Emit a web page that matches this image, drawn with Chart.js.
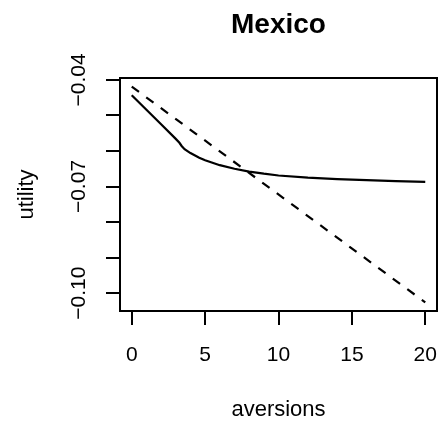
<!DOCTYPE html>
<html>
<head>
<meta charset="utf-8">
<script src="https://cdn.jsdelivr.net/npm/chart.js@4/dist/chart.umd.min.js"></script>
<style>
  html, body { margin: 0; padding: 0; background: #fff; }
  #wrap { width: 438px; height: 423px; }
</style>
</head>
<body>
<div id="wrap"><canvas id="chart" width="438" height="423"></canvas></div>
<script>
/* Utility vs. aversions for Mexico, base-R style plot */

const TITLE = 'Mexico';
const X_TITLE = 'aversions';
const Y_TITLE = 'utility';

// solid curve
const aversions = [0, 1, 2, 3, 3.25, 3.4, 3.6, 4, 4.6, 5, 6, 7, 8, 9, 10, 12, 14, 16, 18, 20];
const utility = [-0.0443, -0.0484, -0.0525, -0.0566, -0.0577, -0.0586, -0.0595, -0.0606, -0.0619, -0.0626,
    -0.0640, -0.0650, -0.0658, -0.0664, -0.0669, -0.0675, -0.0679, -0.0682, -0.0685, -0.0687];

// dashed reference line
const refAversions = [0, 20];
const refUtility = [-0.0419, -0.1026];

const xTicks = [0, 5, 10, 15, 20];
const xTickLabels = ['0', '5', '10', '15', '20'];
const yTicks = [-0.04, -0.05, -0.06, -0.07, -0.08, -0.09, -0.10];
const yTickLabels = ['\u22120.04', '', '', '\u22120.07', '', '', '\u22120.10'];

const FONT = "'Liberation Sans', Arial, Helvetica, sans-serif";
const INK = '#000';

// R-style 4% padding around the data range
function padRange(lo, hi) {
    const d = (hi - lo) * 0.04;
    return [lo - d, hi + d];
}
const [xMin, xMax] = padRange(0, 20);
const allY = utility.concat(refUtility);
const [yMin, yMax] = padRange(Math.min(...allY), Math.max(...allY));

const toPoints = (xs, ys) => xs.map((x, i) => ({ x, y: ys[i] }));

const baseAxes = {
    id: 'baseAxes',
    afterDraw(c) {
        const { ctx, chartArea: a } = c;
        const sx = c.scales.x;
        const sy = c.scales.y;
        const tick = 14;
        ctx.save();
        ctx.strokeStyle = INK;
        ctx.fillStyle = INK;
        ctx.lineWidth = 2;
        ctx.lineCap = 'butt';

        // box
        ctx.strokeRect(a.left, a.top, a.right - a.left, a.bottom - a.top);

        // x axis
        ctx.beginPath();
        ctx.moveTo(sx.getPixelForValue(xTicks[0]), a.bottom);
        ctx.lineTo(sx.getPixelForValue(xTicks[xTicks.length - 1]), a.bottom);
        xTicks.forEach((v) => {
            const px = Math.round(sx.getPixelForValue(v));
            ctx.moveTo(px, a.bottom);
            ctx.lineTo(px, a.bottom + tick);
        });
        ctx.stroke();
        ctx.font = `21px ${FONT}`;
        ctx.textAlign = 'center';
        ctx.textBaseline = 'middle';
        xTicks.forEach((v, i) => {
            ctx.fillText(xTickLabels[i], sx.getPixelForValue(v), 355);
        });

        // y axis
        ctx.beginPath();
        ctx.moveTo(a.left, sy.getPixelForValue(yTicks[0]));
        ctx.lineTo(a.left, sy.getPixelForValue(yTicks[yTicks.length - 1]));
        yTicks.forEach((v) => {
            const py = Math.round(sy.getPixelForValue(v));
            ctx.moveTo(a.left, py);
            ctx.lineTo(a.left - tick, py);
        });
        ctx.stroke();
        yTicks.forEach((v, i) => {
            if (!yTickLabels[i]) return;
            ctx.save();
            ctx.translate(79, sy.getPixelForValue(v));
            ctx.rotate(-Math.PI / 2);
            ctx.fillText(yTickLabels[i], 0, 0);
            ctx.restore();
        });

        // axis titles
        const cx = (a.left + a.right) / 2;
        const cy = (a.top + a.bottom) / 2;
        ctx.font = `22px ${FONT}`;
        ctx.fillText(X_TITLE, cx, 410);
        ctx.save();
        ctx.translate(27, cy);
        ctx.rotate(-Math.PI / 2);
        ctx.fillText(Y_TITLE, 0, 0);
        ctx.restore();

        // main title
        ctx.font = `bold 28px ${FONT}`;
        ctx.textBaseline = 'alphabetic';
        ctx.fillText(TITLE, cx, 33);
        ctx.restore();
    },
};

new Chart(document.getElementById('chart'), {
    type: 'line',
    data: {
        datasets: [
            {
                data: toPoints(aversions, utility),
                borderColor: INK,
                borderWidth: 2.2,
                pointRadius: 0,
                tension: 0,
            },
            {
                data: toPoints(refAversions, refUtility),
                borderColor: INK,
                borderWidth: 2.2,
                borderDash: [9, 9],
                pointRadius: 0,
                tension: 0,
            },
        ],
    },
    options: {
        responsive: false,
        animation: false,
        events: [],
        layout: { padding: { left: 120, right: 1, top: 78, bottom: 112 } },
        plugins: { legend: { display: false }, tooltip: { enabled: false } },
        scales: {
            x: { type: 'linear', min: xMin, max: xMax, display: false },
            y: { type: 'linear', min: yMin, max: yMax, display: false },
        },
    },
    plugins: [baseAxes],
});
</script>
</body>
</html>
